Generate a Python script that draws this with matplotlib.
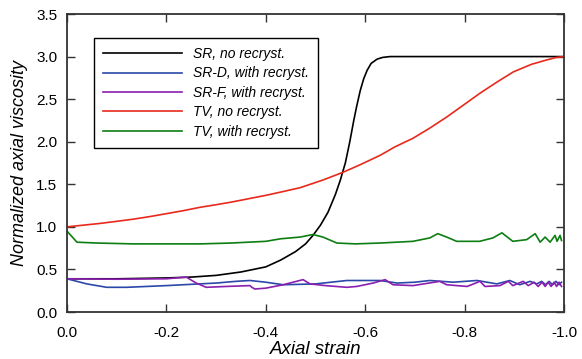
import matplotlib
matplotlib.use("Agg")
import matplotlib.pyplot as plt

plt.rcParams['font.family'] = ['Liberation Sans', 'DejaVu Sans']

# SR, no recryst.
sr_x = [0.0, -0.1, -0.2, -0.25, -0.3, -0.35, -0.40, -0.43, -0.46, -0.48, -0.495, -0.51, -0.525,
        -0.54, -0.55, -0.56, -0.569, -0.577, -0.583, -0.59, -0.597, -0.604, -0.612, -0.624,
        -0.635, -0.65, -0.7, -1.0]
sr_y = [0.39, 0.39, 0.40, 0.41, 0.43, 0.47, 0.53, 0.61, 0.71, 0.80, 0.90, 1.02, 1.17,
        1.38, 1.55, 1.75, 2.00, 2.25, 2.42, 2.60, 2.74, 2.84, 2.92, 2.97,
        2.99, 3.0, 3.0, 3.0]

# SR-D, with recryst.
srd_x = [0.0, -0.04, -0.08, -0.12, -0.2, -0.3, -0.34, -0.368, -0.40, -0.435, -0.5, -0.563, -0.63,
         -0.664, -0.70, -0.73, -0.777, -0.825, -0.865, -0.891, -0.911, -0.932, -0.945, -0.955,
         -0.963, -0.970, -0.977, -0.984, -0.990, -0.995]
srd_y = [0.39, 0.33, 0.29, 0.29, 0.31, 0.34, 0.36, 0.37, 0.35, 0.32, 0.33, 0.37, 0.37,
         0.34, 0.35, 0.37, 0.35, 0.37, 0.33, 0.37, 0.32, 0.36, 0.33, 0.36, 0.32, 0.36, 0.32,
         0.36, 0.32, 0.35]

# SR-F, with recryst.
srf_x = [0.0, -0.1, -0.2, -0.24, -0.26, -0.28, -0.32, -0.368, -0.372, -0.378, -0.40, -0.435,
         -0.475, -0.489, -0.52, -0.563, -0.583, -0.616, -0.64, -0.656, -0.696, -0.75, -0.764,
         -0.805, -0.831, -0.841, -0.871, -0.888, -0.897, -0.918, -0.928, -0.940, -0.948, -0.956,
         -0.962, -0.968, -0.974, -0.980, -0.985, -0.990, -0.995]
srf_y = [0.39, 0.385, 0.39, 0.41, 0.34, 0.29, 0.30, 0.31, 0.29, 0.27, 0.28, 0.32,
         0.38, 0.33, 0.31, 0.29, 0.30, 0.34, 0.38, 0.32, 0.31, 0.36, 0.32,
         0.30, 0.36, 0.30, 0.31, 0.36, 0.31, 0.36, 0.31, 0.35, 0.30, 0.35, 0.30, 0.35,
         0.30, 0.35, 0.30, 0.35, 0.30]

# TV, no recryst.
tv_x = [0.0, -0.033, -0.066, -0.1, -0.133, -0.166, -0.2, -0.234, -0.268, -0.30, -0.33, -0.365,
        -0.40, -0.435, -0.469, -0.515, -0.555, -0.59, -0.63, -0.66, -0.696, -0.73, -0.764,
        -0.80, -0.831, -0.865, -0.898, -0.935, -0.965, -0.985, -1.0]
tv_y = [1.0, 1.02, 1.04, 1.065, 1.09, 1.12, 1.155, 1.19, 1.23, 1.26, 1.29, 1.33,
        1.37, 1.415, 1.46, 1.55, 1.64, 1.73, 1.84, 1.94, 2.04, 2.16, 2.29,
        2.44, 2.57, 2.70, 2.82, 2.91, 2.96, 2.99, 3.0]

# TV, with recryst.
tvr_x = [0.0, -0.02, -0.06, -0.133, -0.2, -0.268, -0.33, -0.40, -0.43, -0.469, -0.495, -0.515,
         -0.543, -0.58, -0.63, -0.696, -0.73, -0.746, -0.764, -0.784, -0.83, -0.857, -0.875,
         -0.897, -0.925, -0.942, -0.952, -0.962, -0.972, -0.982, -0.986, -0.992, -0.995]
tvr_y = [0.95, 0.82, 0.81, 0.80, 0.80, 0.80, 0.81, 0.83, 0.86, 0.88, 0.91, 0.88,
         0.81, 0.80, 0.81, 0.83, 0.87, 0.92, 0.88, 0.83, 0.83, 0.87, 0.93,
         0.83, 0.85, 0.92, 0.82, 0.88, 0.82, 0.90, 0.83, 0.90, 0.84]

labels = ["SR, no recryst.", "SR-D, with recryst.", "SR-F, with recryst.",
          "TV, no recryst.", "TV, with recryst."]
colors = ["#000000", "#2b48a8", "#8a1fb0", "#e8291c", "#0c7e12"]

fig = plt.figure(figsize=(5.82, 3.59), dpi=100)
ax = fig.add_axes([67/582, 1 - 312/359, 497/582, 298/359])

series = [(sr_x, sr_y), (srd_x, srd_y), (srf_x, srf_y), (tv_x, tv_y), (tvr_x, tvr_y)]
for (xs, ys), lab, c in zip(series, labels, colors):
    ax.plot(xs, ys, color=c, lw=1.2, label=lab, solid_joinstyle='round')

ax.set_xlim(0, -1.0)
ax.set_ylim(0, 3.5)
ax.set_xticks([0.0, -0.2, -0.4, -0.6, -0.8, -1.0])
ax.set_xticklabels(["0.0", "-0.2", "-0.4", "-0.6", "-0.8", "-1.0"])
ax.set_yticks([0.0, 0.5, 1.0, 1.5, 2.0, 2.5, 3.0, 3.5])
ax.set_yticklabels(["0.0", "0.5", "1.0", "1.5", "2.0", "2.5", "3.0", "3.5"])
ax.tick_params(direction='in', length=6, width=1.0, top=True, right=True,
               labelsize=11, color='#333333')
ax.tick_params(axis='x', pad=10)
ax.tick_params(axis='y', pad=7)
for s in ax.spines.values():
    s.set_color('#333333')
    s.set_linewidth(1.3)

ax.set_xlabel("Axial strain", fontsize=13.5, style='italic', labelpad=1)
ax.set_ylabel("Normalized axial viscosity", fontsize=13, style='italic', labelpad=6)

leg = ax.legend(loc='upper left', bbox_to_anchor=(27/497, 1 - 24/298), borderaxespad=0,
                fancybox=False, edgecolor='black', framealpha=1, prop={'style': 'italic', 'size': 10},
                handlelength=5.7, labelspacing=0.39, borderpad=0.65, handletextpad=0.75)
leg.get_frame().set_linewidth(1.0)

fig.savefig("out.png", dpi=100)
